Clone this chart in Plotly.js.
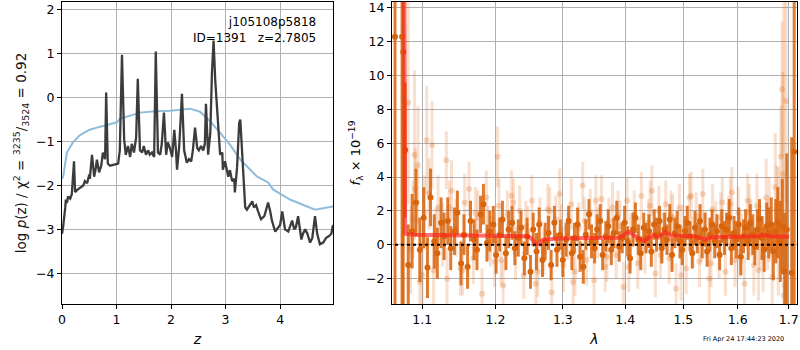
<!DOCTYPE html>
<html>
<head>
<meta charset="utf-8">
<script src="https://cdn.plot.ly/plotly-3.0.1.min.js"></script>
<style>html,body{margin:0;padding:0;background:#fff;}#chart{width:800px;height:350px;}</style>
</head>
<body>
<div id="chart"></div>
<script>
// ---- Left panel: log p(z) ----
const zPdf = [0.00,0.02,0.06,0.07,0.09,0.11,0.15,0.18,0.22,0.24,0.28,0.33,0.39,0.42,0.46,0.50,0.51,0.55,0.59,0.62,0.64,0.68,0.72,0.75,0.79,0.81,0.84,0.88,0.94,0.99,1.03,1.06,1.10,1.14,1.17,1.21,1.25,1.28,1.32,1.36,1.39,1.43,1.47,1.50,1.54,1.58,1.61,1.65,1.69,1.72,1.76,1.80,1.83,1.87,1.91,1.94,1.98,2.02,2.06,2.09,2.11,2.15,2.20,2.24,2.29,2.33,2.37,2.40,2.44,2.48,2.51,2.55,2.59,2.62,2.64,2.68,2.72,2.75,2.78,2.81,2.83,2.86,2.90,2.94,2.95,2.99,3.03,3.05,3.08,3.12,3.16,3.17,3.21,3.25,3.27,3.30,3.32,3.36,3.39,3.45,3.49,3.52,3.56,3.60,3.65,3.71,3.74,3.78,3.82,3.85,3.91,3.96,4.00,4.04,4.09,4.15,4.18,4.22,4.26,4.29,4.33,4.39,4.42,4.46,4.50,4.55,4.59,4.64,4.68,4.73,4.79,4.84,4.90,4.94,4.97];
const logPdf = [-3.1,-2.95,-2.5,-2.32,-2.4,-2.25,-2.3,-2.2,-1.45,-2.15,-2.1,-2.05,-2.0,-1.9,-1.95,-1.75,-1.85,-1.3,-1.8,-1.6,-1.41,-1.7,-1.55,-1.25,-1.4,0.12,-1.5,-1.55,-1.53,-1.5,-1.5,-1.2,0.98,-0.95,-1.3,-1.1,-1.35,-1.05,-1.25,-0.9,0.43,-1.2,-1.25,-1.1,-1.3,-1.2,-1.3,-1.25,-1.35,1.05,-1.25,-1.3,-1.05,-0.34,-1.3,-1.02,-1.15,-1.35,-0.73,-1.2,-1.64,-1.1,0.09,-1.2,-1.48,-1.4,-1.45,-1.2,-0.68,-1.15,-1.2,-1.1,-1.2,-1.05,-0.14,-1.3,-0.8,0.57,1.3,0.4,0.02,-0.66,-1.3,-1.25,-1.64,-1.45,-1.7,-1.8,-1.65,-1.9,-1.85,-2.16,-1.6,-0.57,-0.5,-1.1,-1.48,-2.5,-2.55,-2.45,-2.36,-2.5,-2.45,-2.6,-2.77,-2.7,-2.55,-2.39,-2.6,-2.8,-3.05,-2.95,-2.9,-2.59,-3.0,-3.05,-2.95,-2.8,-3.0,-2.95,-2.7,-3.23,-3.1,-3.0,-3.1,-3.3,-3.2,-2.7,-3.1,-3.34,-3.3,-3.2,-3.15,-3.1,-2.9];
const zPrior = [0.00,0.02,0.09,0.20,0.33,0.51,0.70,0.88,1.01,1.06,1.19,1.43,1.71,1.98,2.22,2.35,2.53,2.72,2.90,3.08,3.27,3.39,3.58,3.78,3.87,4.18,4.50,4.64,4.97];
const logPrior = [-1.85,-1.8,-1.25,-1.02,-0.85,-0.73,-0.66,-0.6,-0.56,-0.48,-0.43,-0.34,-0.31,-0.3,-0.27,-0.25,-0.32,-0.54,-0.8,-1.07,-1.41,-1.57,-1.8,-1.93,-2.09,-2.32,-2.48,-2.55,-2.48];
const zTicks = [0,1,2,3,4];
const pTicks = [-4,-3,-2,-1,0,1,2];

// ---- Right panel: spectrum ----
const lamA = [1.082,1.087,1.092,1.097,1.102,1.107,1.111,1.116,1.120,1.125,
1.129,1.134,1.138,1.143,1.147,1.152,1.156,1.161,1.165,1.170,
1.174,1.179,1.183,1.188,1.192,1.197,1.201,1.206,1.210,1.215,
1.219,1.224,1.228,1.233,1.237,1.242,1.246,1.251,1.255,1.260,
1.264,1.269,1.273,1.278,1.282,1.287,1.291,1.296,1.300,1.305,
1.309,1.314,1.318,1.323,1.327,1.332,1.336,1.341,1.345,1.350,
1.354,1.359,1.363,1.368,1.372,1.377,1.381,1.386,1.390,1.395,
1.399,1.404,1.408,1.413,1.417,1.422,1.426,1.431,1.435,1.440,
1.444,1.449,1.453,1.458,1.462,1.467,1.471,1.476,1.480,1.485,
1.489,1.494,1.498,1.503,1.507,1.512,1.516,1.521,1.525,1.530,
1.534,1.539,1.543,1.548,1.552,1.557,1.561,1.566,1.570,1.575,
1.579,1.584,1.588,1.593,1.597,1.602,1.606,1.611,1.615,1.620,
1.624,1.629,1.633,1.638,1.642,1.647,1.651,1.656,1.660,1.665,
1.669,1.674,1.678,1.683,1.687,1.692,1.696,
1.0651,1.0741,1.0755,1.0780,1.7060,1.7110];
const fluxA = [-1.2,0.8,2.5,-0.3,1.6,-1.35,2.8,0.2,-0.5,1.3,
0.5,1.4,-0.2,0.8,1.9,-1.1,0.6,-1.3,1.4,0.3,
-0.3,1.8,2.4,0.1,0.8,1.2,-0.6,0.6,1.5,-0.5,
0.9,1.3,-0.2,0.4,1.0,-0.8,0.5,-1.6,0.9,-0.4,
1.2,-0.9,0.2,0.7,-1.2,1.3,-0.3,0.6,-0.9,0.3,
1.4,-0.5,0.4,1.2,-0.7,-1.3,0.6,1.8,0.2,-0.2,
0.9,1.4,-0.6,0.5,1.1,-0.3,0.7,1.6,-0.1,0.4,
1.3,0.2,-0.8,0.9,1.6,0.3,-0.5,1.0,0.4,0.8,
-0.4,1.2,0.6,1.4,-0.2,0.9,0.3,1.5,-0.6,0.7,
1.1,0.2,-0.3,0.8,1.3,0.5,-0.5,1.0,0.4,1.4,
0.1,0.9,-0.4,0.6,1.2,0.2,0.8,-0.6,1.1,0.4,
0.9,1.6,-0.2,0.7,0.3,1.2,-0.7,0.5,1.0,0.2,
1.3,0.6,-0.1,0.9,1.5,0.4,-0.3,1.1,0.7,1.2,
-0.4,0.8,1.3,0.2,1.1,-1.6,0.9,
12.3,12.3,11.4,5.6,-1.65,5.5];
const errA = [2.4,2.2,2.0,1.9,1.8,1.8,1.7,1.6,1.5,1.5,
1.4,1.4,1.3,1.4,1.3,1.3,1.2,1.3,1.2,1.2,
1.2,1.1,1.2,1.1,1.2,1.1,1.1,1.0,1.1,1.0,
1.1,1.0,1.0,1.1,1.0,1.0,1.1,1.0,1.0,1.1,
1.0,1.0,1.1,1.0,0.9,1.0,1.0,0.9,1.0,1.0,
0.9,1.0,0.9,1.0,0.9,1.0,0.9,0.9,1.0,0.9,
0.9,1.0,0.9,0.9,1.0,0.9,0.9,1.0,0.9,0.9,
1.0,0.9,0.9,1.0,0.9,0.9,1.0,0.9,0.9,1.0,
0.9,0.9,1.0,0.9,0.9,1.0,0.9,0.9,1.0,0.9,
0.9,1.0,0.9,0.9,1.0,0.9,0.9,1.0,0.9,1.0,
0.9,1.0,0.9,1.0,0.9,1.0,1.0,0.9,1.0,1.0,
1.0,1.1,1.0,1.0,1.1,1.0,1.1,1.0,1.1,1.1,
1.1,1.2,1.1,1.2,1.2,1.3,1.3,1.4,1.5,1.6,
1.7,1.9,2.1,2.4,2.8,3.5,4.5,
25,25,25,4,8,25];

const lamB = [1.085,1.091,1.097,1.103,1.109,1.115,1.121,1.127,1.133,1.139,
1.145,1.151,1.157,1.163,1.169,1.175,1.181,1.187,1.193,1.199,
1.205,1.211,1.217,1.223,1.229,1.235,1.241,1.247,1.253,1.259,
1.265,1.271,1.277,1.283,1.289,1.295,1.301,1.307,1.313,1.319,
1.325,1.331,1.337,1.343,1.349,1.355,1.361,1.367,1.373,1.379,
1.385,1.391,1.397,1.403,1.409,1.415,1.421,1.427,1.433,1.439,
1.445,1.451,1.457,1.463,1.469,1.475,1.481,1.487,1.493,1.499,
1.505,1.511,1.517,1.523,1.529,1.535,1.541,1.547,1.553,1.559,
1.565,1.571,1.577,1.583,1.589,1.595,1.601,1.607,1.613,1.619,
1.625,1.631,1.637,1.643,1.649,1.655,1.661,1.667,1.673,1.679,
1.082,1.090,1.0945,1.106,1.113,1.132,1.203,1.684,1.6864,1.688,1.6946,1.690,
1.088,1.100,1.118,1.136,1.154,1.172,1.190,1.208,1.226,1.244,
1.262,1.280,1.298,1.316,1.334,1.352,1.370,1.388,1.406,1.424,
1.442,1.460,1.478,1.496,1.514,1.532,1.550,1.568,1.586,1.604,
1.622,1.640,1.658,1.676,1.692];
const fluxB = [-0.3,3.3,-2.2,1.9,3.0,-1.5,2.2,0.6,-2.0,3.2,
1.0,-1.4,2.5,3.3,-0.8,1.6,-2.9,2.8,0.2,-1.0,
2.3,-2.4,1.8,2.9,-0.5,2.0,-1.8,0.8,2.6,-2.3,
1.3,-0.4,2.1,-2.8,1.5,3.0,-1.2,0.5,2.4,-1.6,
1.0,3.5,-0.9,1.9,-2.1,0.7,2.7,-1.3,1.4,2.2,
-0.6,1.1,-2.5,2.6,0.3,1.8,-1.1,2.9,-0.2,1.3,
3.2,-1.7,2.0,0.4,2.4,-0.8,1.6,-2.6,2.2,0.9,
-1.4,2.8,0.1,1.7,-1.0,3.0,0.6,-2.0,2.1,1.2,
-0.5,2.5,-1.6,1.4,3.1,-0.9,1.9,0.3,-2.3,2.6,
1.0,-1.2,2.3,0.5,-0.7,2.8,1.5,-1.9,3.4,0.8,
8.4,5.3,4.7,6.2,5.9,5.0,5.2,5.2,9.2,4.2,8.5,-3.0,
1.5,-1.8,0.4,2.2,-1.5,1.9,0.7,-0.9,2.5,1.1,
-1.6,2.0,0.9,-2.2,1.4,2.6,-0.7,1.8,-1.3,0.2,
2.3,-0.6,1.7,-1.8,2.9,0.5,-1.1,1.6,2.4,-0.4,
1.9,-1.5,0.6,2.1,-2.4];
const errB = [2.6,2.4,2.3,2.2,2.1,2.0,1.9,1.9,1.8,1.8,
1.7,1.6,1.7,1.6,1.5,1.6,1.5,1.6,1.5,1.5,
1.6,1.5,1.4,1.5,1.6,1.5,1.4,1.5,1.5,1.6,
1.5,1.4,1.5,1.5,1.4,1.5,1.6,1.4,1.5,1.4,
1.5,1.4,1.5,1.4,1.5,1.5,1.4,1.5,1.4,1.5,
1.4,1.5,1.5,1.4,1.5,1.4,1.5,1.4,1.5,1.4,
1.5,1.4,1.5,1.5,1.4,1.5,1.4,1.5,1.4,1.5,
1.5,1.4,1.5,1.4,1.5,1.5,1.4,1.5,1.5,1.4,
1.5,1.5,1.4,1.5,1.5,1.6,1.5,1.5,1.6,1.6,
1.7,1.8,1.9,2.0,2.1,2.3,2.5,2.8,3.2,3.8,
6,5,3.5,3.2,2.6,1.7,1.8,3,4,6,6,20,
2.3,2.0,1.8,1.6,1.5,1.5,1.6,1.5,1.4,1.5,
1.5,1.4,1.5,1.5,1.4,1.5,1.5,1.4,1.5,1.4,
1.5,1.4,1.5,1.5,1.4,1.5,1.4,1.5,1.6,1.5,
1.7,1.8,2.1,2.6,4.0];

const lamModel = [1.077,1.078,1.090,1.150,1.200,1.245,1.252,1.258,1.262,1.270,1.300,1.350,1.390,1.398,1.405,1.415,1.425,1.432,1.440,1.447,1.455,1.462,1.468,1.478,1.520,1.533,1.540,1.550,1.600,1.640,1.648,1.660,1.701];
const fluxModel = [15,0.65,0.6,0.55,0.5,0.5,0.4,0.1,0.05,0.3,0.38,0.4,0.42,0.6,0.78,0.55,0.35,0.2,0.45,0.6,0.42,0.6,0.75,0.55,0.5,0.38,0.3,0.45,0.48,0.5,0.6,0.5,0.48];
const lamZero = [1.05,1.73];
const fluxZero = [0,0];
const lamTicks = [1.1,1.2,1.3,1.4,1.5,1.6,1.7];
const lamTickText = ['1.1','1.2','1.3','1.4','1.5','1.6','1.7'];
const fTicks = [-2,0,2,4,6,8,10,12,14];

const FONT = 'DejaVu Sans, sans-serif';
const traces = [
  {x: zPrior, y: logPrior, type: 'scatter', mode: 'lines', xaxis: 'x', yaxis: 'y',
   line: {color: '#8fbcdb', width: 2}, hoverinfo: 'skip'},
  {x: zPdf, y: logPdf, type: 'scatter', mode: 'lines', xaxis: 'x', yaxis: 'y',
   line: {color: '#3c3c3c', width: 2.3}, hoverinfo: 'skip'},
  {x: lamB, y: fluxB, type: 'scatter', mode: 'markers', xaxis: 'x2', yaxis: 'y2',
   marker: {color: 'rgba(222,110,30,0.26)', size: 6},
   error_y: {type: 'data', array: errB, visible: true, color: 'rgba(222,110,30,0.22)', thickness: 3, width: 0}},
  {x: lamA, y: fluxA, type: 'scatter', mode: 'markers', xaxis: 'x2', yaxis: 'y2',
   marker: {color: '#d8640c', size: 6},
   error_y: {type: 'data', array: errA, visible: true, color: 'rgba(216,100,12,0.85)', thickness: 3, width: 0}},
  {x: lamModel, y: fluxModel, type: 'scatter', mode: 'lines', xaxis: 'x2', yaxis: 'y2',
   line: {color: 'rgba(255,30,30,0.65)', width: 4}},
  {x: lamZero, y: fluxZero, type: 'scatter', mode: 'lines', xaxis: 'x2', yaxis: 'y2',
   line: {color: '#000', width: 2, dash: 'dot'}}
];

const axCommon = {
  showgrid: true, gridcolor: '#b0b0b0', gridwidth: 1,
  showline: true, linecolor: '#000', linewidth: 1, mirror: true,
  ticks: 'outside', ticklen: 4, tickcolor: '#000',
  zeroline: false, tickfont: {family: FONT, size: 12.5, color: '#000'}
};

const layout = {
  width: 800, height: 350,
  margin: {l: 62, r: 3, t: 2, b: 46},
  paper_bgcolor: '#fff', plot_bgcolor: '#fff',
  showlegend: false,
  font: {family: FONT, color: '#000'},
  xaxis: Object.assign({}, axCommon, {domain: [0, 0.3687], range: [0, 4.97],
    tickvals: zTicks, title: {text: '<i>z</i>', font: {family: FONT, size: 14}, standoff: 8}}),
  yaxis: Object.assign({}, axCommon, {range: [-4.7, 2.18], tickvals: pTicks,
    title: {text: 'log <i>p</i>(z) / χ<sup>2</sup> = <sup>3235</sup>/<sub>3524</sub> = 0.92', font: {family: FONT, size: 13.5, color: '#111'}, standoff: 6}}),
  xaxis2: Object.assign({}, axCommon, {domain: [0.449, 1], type: 'log', range: [0.02585, 0.2347],
    tickvals: lamTicks, ticktext: lamTickText, anchor: 'y2',
    title: {text: '<i>λ</i>', font: {family: FONT, size: 14}, standoff: 8}}),
  yaxis2: Object.assign({}, axCommon, {anchor: 'x2', range: [-3.5, 14.35], tickvals: fTicks,
    title: {text: '<i>f</i><sub>λ</sub> × 10<sup>−19</sup>', font: {family: FONT, size: 13}, standoff: 2}}),
  annotations: [
    {xref: 'x domain', yref: 'y domain', x: 0.945, y: 0.965, xanchor: 'right', yanchor: 'top',
     align: 'right', showarrow: false, text: 'j105108p5818<br>ID=1391   z=2.7805',
     font: {family: FONT, size: 12, color: '#000'}},
    {xref: 'paper', yref: 'paper', x: 0.985, y: -0.115, xanchor: 'right', yanchor: 'middle',
     showarrow: false, text: 'Fri Apr 24 17:44:23 2020', font: {family: FONT, size: 6.5, color: '#000'}}
  ]
};

Plotly.newPlot('chart', traces, layout, {staticPlot: true, displayModeBar: false});
</script>
</body>
</html>
